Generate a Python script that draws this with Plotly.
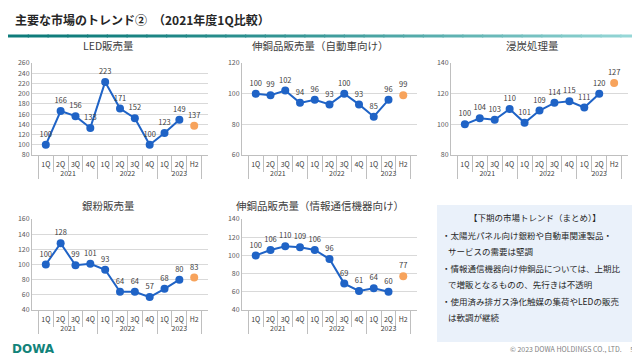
import plotly.graph_objects as go

years = ["2021"] * 4 + ["2022"] * 4 + ["2023"] * 2
quarters = ["1Q", "2Q", "3Q", "4Q", "1Q", "2Q", "3Q", "4Q", "1Q", "2Q"]
h2_year = ["2023"]
h2_label = ["H2"]

led = [100, 166, 156, 133, 223, 171, 152, 100, 123, 149]
led_h2 = [137]
auto = [100, 99, 102, 94, 96, 93, 100, 93, 85, 96]
auto_h2 = [99]
carb = [100, 104, 103, 110, 101, 109, 114, 115, 111, 120]
carb_h2 = [127]
silver = [100, 128, 99, 101, 93, 64, 64, 57, 68, 80]
silver_h2 = [83]
info = [100, 106, 110, 109, 106, 96, 69, 61, 64, 60]
info_h2 = [77]

titles = ["LED販売量", "伸銅品販売量（自動車向け）", "浸炭処理量", "銀粉販売量", "伸銅品販売量（情報通信機器向け）"]
series = [(led, led_h2), (auto, auto_h2), (carb, carb_h2), (silver, silver_h2), (info, info_h2)]
yranges = [(80, 260), (60, 120), (80, 140), (40, 160), (40, 140)]

# The page body has an 8px margin, so the figure is drawn at (8, 8) in the window.
OFF = 8
W, H = 640 - OFF, 360 - OFF


def px(x):
    return (x - OFF) / W


def py(y):
    return 1 - (y - OFF) / H


# plot boxes in window pixels: x0, x1, ytop, ybottom
boxes = [(32, 208, 63, 155), (242, 417, 63, 155), (451, 628, 63, 155),
         (32, 208, 219, 310), (242, 417, 219, 310)]
title_pos = [(108, 46), (320, 46), (532, 46), (108, 205), (320, 205)]

FONT = "Noto Sans CJK JP"
BLUE = "#1F63C6"
ORANGE = "#F7A35C"
GRID = "#D9D9D9"
TXT = "#404040"

fig = go.Figure()
layout = dict(width=W, height=H, margin=dict(l=0, r=0, t=0, b=0),
              paper_bgcolor="white", plot_bgcolor="white", showlegend=False,
              font=dict(family=FONT, color=TXT, size=7))
annotations = []
shapes = []

for i, ((vals, h2), (ylo, yhi), (x0, x1, yt, yb), title) in enumerate(zip(series, yranges, boxes, titles)):
    n = "" if i == 0 else str(i + 1)
    xa, ya = "x" + n, "y" + n
    fig.add_trace(go.Scatter(x=[years, quarters], y=vals, xaxis=xa, yaxis=ya,
                             mode="lines+markers+text", text=[str(v) for v in vals],
                             textposition="top center", textfont=dict(size=7.5, color=TXT),
                             line=dict(color=BLUE, width=2), marker=dict(color=BLUE, size=8),
                             cliponaxis=False))
    fig.add_trace(go.Scatter(x=[h2_year, h2_label], y=h2, xaxis=xa, yaxis=ya,
                             mode="markers+text", text=[str(v) for v in h2],
                             textposition="top center", textfont=dict(size=7.5, color=TXT),
                             marker=dict(color=ORANGE, size=8), cliponaxis=False))
    layout["xaxis" + n] = dict(domain=[px(x0), px(x1)], anchor=ya, type="multicategory",
                               showline=True, linecolor="#BFBFBF", linewidth=1,
                               ticks="outside", tickson="boundaries", ticklen=16, tickcolor="#BFBFBF",
                               showdividers=True, dividercolor="#BFBFBF", dividerwidth=1,
                               tickangle=0, automargin=False, ticklabelstandoff=3,
                               showgrid=False, tickfont=dict(size=7, color=TXT))
    layout["yaxis" + n] = dict(domain=[py(yb), py(yt)], anchor=xa, range=[ylo, yhi],
                               dtick=20, showgrid=True, gridcolor=GRID, gridwidth=1,
                               showline=True, linecolor="#BFBFBF", zeroline=False, automargin=False,
                               tickfont=dict(size=7, color="#595959"), ticks="")
    tx, ty = title_pos[i]
    annotations.append(dict(text=title, x=px(tx), y=py(ty), xref="paper", yref="paper",
                            showarrow=False, font=dict(size=10.5, color=TXT), xanchor="center", yanchor="middle"))

# header
annotations.append(dict(text="<b>主要な市場のトレンド②　（2021年度1Q比較）</b>", x=px(13), y=py(19),
                        xref="paper", yref="paper", showarrow=False, xanchor="left", yanchor="middle",
                        font=dict(size=12, color="#262626")))
# gradient teal rule
nseg = 32
c0 = (14, 124, 123)
c1 = (150, 215, 215)
for k in range(nseg):
    t = k / (nseg - 1)
    c = tuple(int(c0[j] + (c1[j] - c0[j]) * t ** 1.5) for j in range(3))
    shapes.append(dict(type="rect", xref="paper", yref="paper",
                       x0=k / nseg, x1=(k + 1) / nseg + 0.002, y0=py(37.5), y1=py(34.5),
                       fillcolor="rgb(%d,%d,%d)" % c, line=dict(width=0)))

# summary box
shapes.append(dict(type="rect", xref="paper", yref="paper", x0=px(437), x1=px(633),
                   y0=py(342), y1=py(205), fillcolor="#EAF1FA", line=dict(width=0), layer="below"))
box_lines = [
    ("【下期の市場トレンド（まとめ）】", 535, 217, "center"),
    ("・太陽光パネル向け銀粉や自動車関連製品・", 440, 235, "left"),
    ("サービスの需要は堅調", 446, 251, "left"),
    ("・情報通信機器向け伸銅品については、上期比", 440, 268, "left"),
    ("で増販となるものの、先行きは不透明", 446, 284, "left"),
    ("・使用済み排ガス浄化触媒の集荷やLEDの販売", 440, 301, "left"),
    ("は軟調が継続", 446, 317, "left"),
]
for txt, x, y, anc in box_lines:
    annotations.append(dict(text=txt, x=px(x), y=py(y), xref="paper", yref="paper",
                            showarrow=False, xanchor=anc, yanchor="middle",
                            font=dict(size=8.5, color="#262626")))

# footer
annotations.append(dict(text="<b>DOWA</b>", x=px(10), y=py(349), xref="paper", yref="paper",
                        showarrow=False, xanchor="left", yanchor="middle",
                        font=dict(family="DejaVu Sans", size=12, color="#12837A")))
annotations.append(dict(text="© 2023 DOWA HOLDINGS CO., LTD.　 5", x=px(636), y=py(349),
                        xref="paper", yref="paper", showarrow=False, xanchor="right", yanchor="middle",
                        font=dict(size=7, color="#7F7F7F")))

layout["annotations"] = annotations
layout["shapes"] = shapes
fig.update_layout(**layout)
fig.write_html("out.html")
